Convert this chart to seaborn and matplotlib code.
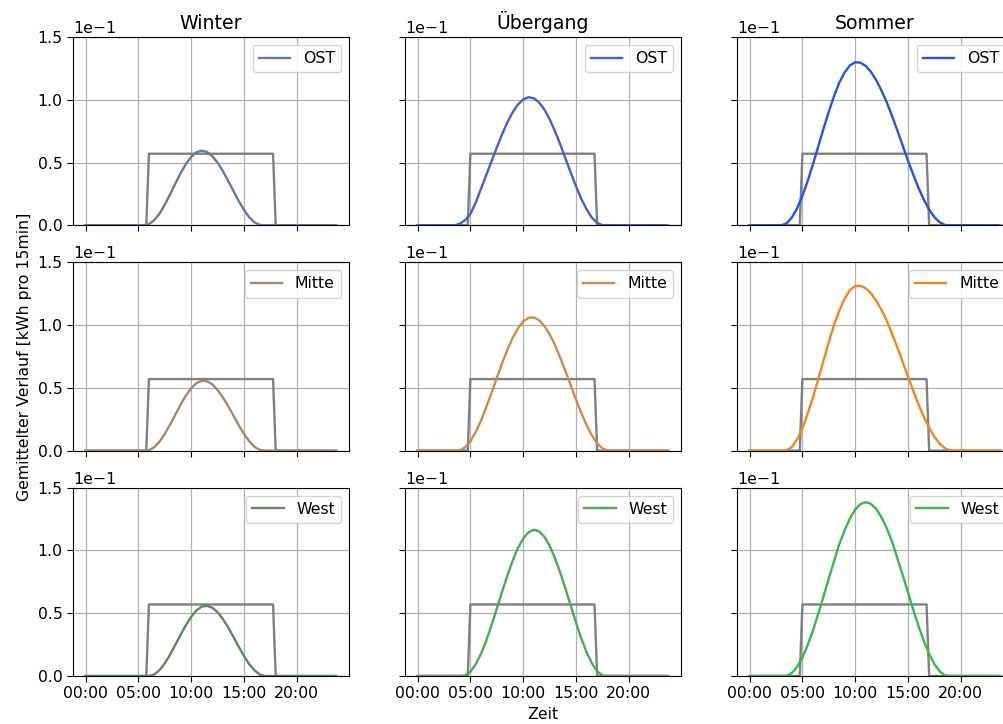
# plot.py
"""Gemittelter PV-Tagesverlauf je Jahreszeit und Ausrichtung (3x3 Raster)."""

import numpy as np
import seaborn as sns
import matplotlib.pyplot as plt
from matplotlib.ticker import FuncFormatter

# Zeitachsen in Stunden: Kurven halbstuendlich, Referenzlinie viertelstuendlich
hours_30min = np.arange(0, 24, 0.5)
hours_15min = np.arange(0, 24, 0.25)

seasons = ['Winter', 'Übergang', 'Sommer']
orientations = ['OST', 'Mitte', 'West']

# Referenzlinie (grau) je Jahreszeit, kWh pro 15 min
ref_winter = [0.0] * 24 + [0.057] * 48 + [0.0] * 24
ref_uebergang = [0.0] * 20 + [0.057] * 48 + [0.0] * 28
ref_sommer = [0.0] * 20 + [0.057] * 48 + [0.0] * 28

# Winter
winter_ost = [0.0] * 12 + [
    0.0008, 0.0041, 0.0093, 0.0164, 0.0245, 0.0332, 0.0415, 0.0488, 0.0545, 0.0582, 0.0595,
    0.0584, 0.0550, 0.0499, 0.0432, 0.0354, 0.0273, 0.0193, 0.0122, 0.0063, 0.0023, 0.0002,
] + [0.0] * 14
winter_mitte = [0.0] * 12 + [
    0.0003, 0.0027, 0.0071, 0.0133, 0.0207, 0.0287, 0.0367, 0.0439, 0.0497, 0.0538, 0.0557,
    0.0553, 0.0528, 0.0483, 0.0424, 0.0355, 0.0279, 0.0203, 0.0133, 0.0074, 0.0030, 0.0005,
] + [0.0] * 14
winter_west = [0.0] * 13 + [
    0.0012, 0.0047, 0.0101, 0.0169, 0.0248, 0.0329, 0.0405, 0.0472, 0.0522, 0.0553, 0.0559,
    0.0544, 0.0508, 0.0454, 0.0387, 0.0311, 0.0233, 0.0159, 0.0094, 0.0044, 0.0011,
] + [0.0] * 14

# Uebergang
uebergang_ost = [0.0] * 8 + [
    0.0012, 0.0040, 0.0090, 0.0180, 0.0290, 0.0400, 0.0510, 0.0619, 0.0725, 0.0820, 0.0900,
    0.0962, 0.1003, 0.1020, 0.1012, 0.0979, 0.0923, 0.0845, 0.0752, 0.0646, 0.0532, 0.0419,
    0.0310, 0.0210, 0.0127, 0.0060, 0.0019, 0.0001,
] + [0.0] * 12
uebergang_mitte = [0.0] * 8 + [
    0.0002, 0.0026, 0.0075, 0.0148, 0.0237, 0.0346, 0.0460, 0.0579, 0.0696, 0.0804, 0.0898,
    0.0974, 0.1029, 0.1058, 0.1061, 0.1039, 0.0993, 0.0928, 0.0843, 0.0742, 0.0634, 0.0520,
    0.0407, 0.0299, 0.0204, 0.0122, 0.0058, 0.0018, 0.0001,
] + [0.0] * 11
uebergang_west = [0.0] * 9 + [
    0.0003, 0.0033, 0.0093, 0.0176, 0.0281, 0.0404, 0.0537, 0.0672, 0.0800, 0.0919, 0.1019,
    0.1095, 0.1145, 0.1165, 0.1153, 0.1110, 0.1038, 0.0939, 0.0825, 0.0697, 0.0560, 0.0425,
    0.0299, 0.0189, 0.0101, 0.0038, 0.0005,
] + [0.0] * 12

# Sommer
sommer_ost = [0.0] * 7 + [
    0.0015, 0.0062, 0.0136, 0.0235, 0.0353, 0.0486, 0.0628, 0.0770, 0.0906, 0.1030, 0.1138,
    0.1218, 0.1274, 0.1299, 0.1295, 0.1269, 0.1221, 0.1155, 0.1071, 0.0976, 0.0868, 0.0752,
    0.0633, 0.0513, 0.0402, 0.0295, 0.0203, 0.0124, 0.0064, 0.0024, 0.0002,
] + [0.0] * 10
sommer_mitte = [0.0] * 7 + [
    0.0002, 0.0029, 0.0090, 0.0178, 0.0297, 0.0424, 0.0570, 0.0717, 0.0863, 0.1005, 0.1117,
    0.1211, 0.1278, 0.1312, 0.1313, 0.1293, 0.1253, 0.1194, 0.1119, 0.1032, 0.0929, 0.0820,
    0.0704, 0.0588, 0.0475, 0.0367, 0.0268, 0.0182, 0.0109, 0.0055, 0.0018, 0.0001,
] + [0.0] * 9
sommer_west = [0.0] * 7 + [
    0.0001, 0.0024, 0.0072, 0.0148, 0.0246, 0.0363, 0.0495, 0.0636, 0.0777, 0.0917, 0.1053,
    0.1161, 0.1256, 0.1327, 0.1370, 0.1385, 0.1371, 0.1330, 0.1262, 0.1173, 0.1068, 0.0936,
    0.0802, 0.0665, 0.0526, 0.0396, 0.0277, 0.0176, 0.0094, 0.0036, 0.0005,
] + [0.0] * 10

curves = {
    ('OST', 'Winter'): winter_ost, ('OST', 'Übergang'): uebergang_ost, ('OST', 'Sommer'): sommer_ost,
    ('Mitte', 'Winter'): winter_mitte, ('Mitte', 'Übergang'): uebergang_mitte, ('Mitte', 'Sommer'): sommer_mitte,
    ('West', 'Winter'): winter_west, ('West', 'Übergang'): uebergang_west, ('West', 'Sommer'): sommer_west,
}
references = {'Winter': ref_winter, 'Übergang': ref_uebergang, 'Sommer': ref_sommer}

colors = {
    ('OST', 'Winter'): '#6677ad', ('OST', 'Übergang'): '#4460d0', ('OST', 'Sommer'): '#2453e6',
    ('Mitte', 'Winter'): '#a8876a', ('Mitte', 'Übergang'): '#d08a45', ('Mitte', 'Sommer'): '#f0861f',
    ('West', 'Winter'): '#5a8a5e', ('West', 'Übergang'): '#4aaa55', ('West', 'Sommer'): '#38b848',
}

# the original looks rendered ~13% larger than matplotlib defaults
plt.rcParams['font.size'] = 11.3
plt.rcParams['grid.linewidth'] = 0.9
plt.rcParams['xtick.major.size'] = 4
plt.rcParams['ytick.major.size'] = 4

fig, axes = plt.subplots(3, 3, figsize=(10.04, 7.24), dpi=100, sharex=True, sharey=True)
fig.subplots_adjust(left=0.0727, right=1.009, bottom=0.0663, top=0.9489,
                    wspace=0.203, hspace=0.197)

for row, orient in enumerate(orientations):
    for col, season in enumerate(seasons):
        ax = axes[row, col]
        sns.lineplot(x=hours_15min, y=references[season], ax=ax, color='grey',
                     linewidth=1.7, legend=False)
        sns.lineplot(x=hours_30min, y=curves[(orient, season)], ax=ax,
                     color=colors[(orient, season)], linewidth=1.7, label=orient)
        ax.legend(loc='upper right')
        ax.grid(True)
        ax.set_ylim(0, 0.15)
        ax.set_yticks([0, 0.05, 0.10, 0.15])
        ax.ticklabel_format(axis='y', style='sci', scilimits=(0, 0))
        ax.yaxis.offsetText.set_visible(True)
        ax.set_xticks([0, 5, 10, 15, 20])
        ax.xaxis.set_major_formatter(FuncFormatter(lambda h, pos: f'{int(h):02d}:00'))
        ax.set_xlabel('')
        ax.set_ylabel('')
        if row == 0:
            ax.set_title(season)

axes[1, 0].set_ylabel('Gemittelter Verlauf [kWh pro 15min]')
axes[2, 1].set_xlabel('Zeit')

plt.savefig('out.png', dpi=100)
